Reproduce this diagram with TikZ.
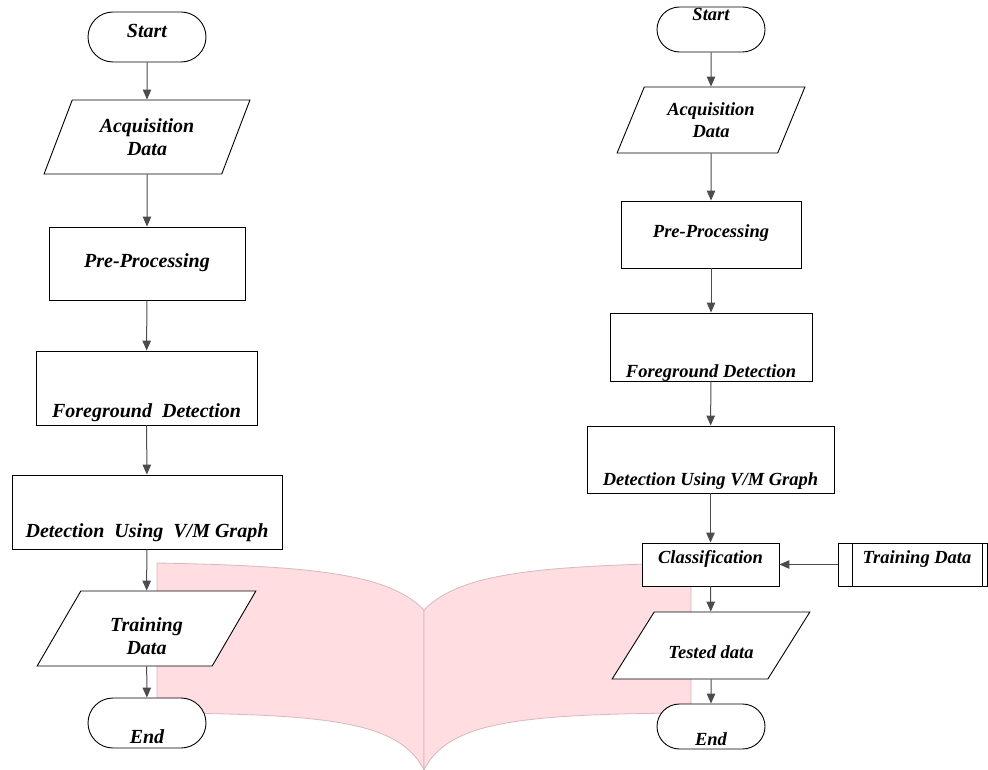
\documentclass[tikz,border=0pt]{standalone}
\usepackage{fontspec}
\setmainfont{Liberation Serif}
\usepackage{tikz}
\usetikzlibrary{shapes.geometric, shapes.misc, arrows.meta}

\definecolor{pagepink}{RGB}{255,221,225}
\definecolor{pageedge}{RGB}{214,184,189}

\begin{document}
\begin{tikzpicture}[x=1pt, y=-1pt,
    box/.style={draw, fill=white, line width=0.9pt, inner xsep=2pt, inner ysep=0pt},
    term/.style={box, rounded rectangle},
    io/.style={box, trapezium, trapezium stretches=true, align=center},
    proc/.style={box, rectangle},
    predef/.style={proc, path picture={
        \draw[line width=0.9pt] ([xshift=14pt]path picture bounding box.north west) -- ([xshift=14pt]path picture bounding box.south west);
        \draw[line width=0.9pt] ([xshift=-5pt]path picture bounding box.north east) -- ([xshift=-5pt]path picture bounding box.south east);}},
    arr/.style={-{Triangle[length=10pt, width=8.5pt]}, draw=black!70, line width=1pt},
    leftfont/.style={font=\fontsize{20}{23}\selectfont\bfseries\itshape},
    rightfont/.style={font=\fontsize{18.5}{22}\selectfont\bfseries\itshape}]
    \useasboundingbox (0,0) rectangle (988,770);

    \fill[pagepink, draw=pageedge, line width=0.8pt] (157,563) .. controls (320,566) and (390,575) .. (424,610) -- (424,770) .. controls (400,722) and (330,714) .. (157,713) -- cycle;
    \fill[pagepink, draw=pageedge, line width=0.8pt] (691,563) .. controls (528,566) and (458,575) .. (424,610) -- (424,770) .. controls (448,722) and (518,714) .. (691,713) -- cycle;

    \node[term, leftfont, minimum width=122pt, text height=26pt, text depth=24pt] (Start_L) at (147,37) {Start};
    \node[io, leftfont, trapezium left angle=63.4, trapezium right angle=116.6, minimum width=206pt, minimum height=74pt] (Acq_L) at (147,137) {Acquisition\\Data};
    \node[proc, leftfont, minimum width=196pt, text height=40pt, text depth=33pt] (Pre_L) at (147,263.5) {Pre-Processing};
    \node[proc, leftfont, minimum width=221pt, text height=66pt, text depth=8pt] (Fg_L) at (146.5,388) {Foreground\ \ Detection};
    \node[proc, leftfont, minimum width=270pt, text height=62pt, text depth=12pt] (Det_L) at (147,512) {Detection\ \ Using\ \ V/M Graph};
    \node[io, leftfont, trapezium left angle=64.4, trapezium right angle=115.6, minimum width=219pt, minimum height=75pt] (Train_L) at (146.5,628.5) {\rule{0pt}{30pt}Training\\Data};
    \node[term, leftfont, minimum width=122pt, text height=45pt, text depth=5pt] (End_L) at (147,723) {End};

    \node[term, rightfont, minimum width=112pt, text height=14pt, text depth=31pt] (Start_R) at (711,29.5) {Start};
    \node[io, rightfont, trapezium left angle=62, trapezium right angle=118, minimum width=188pt, minimum height=66pt] (Acq_R) at (711,120) {Acquisition\\Data};
    \node[proc, rightfont, minimum width=180pt, text height=37pt, text depth=30pt] (Pre_R) at (711,234.5) {Pre-Processing};
    \node[proc, rightfont, minimum width=202pt, text height=64pt, text depth=4pt] (Fg_R) at (711,347) {Foreground Detection};
    \node[proc, rightfont, minimum width=247pt, text height=59pt, text depth=8pt] (Det_R) at (710.5,459.5) {Detection Using V/M Graph};
    \node[proc, rightfont, minimum width=137pt, text height=20pt, text depth=23pt] (Cls_R) at (710.5,564.5) {Classification};
    \node[predef, rightfont, minimum width=149pt, text height=20pt, text depth=23pt] (Train_R) at (912.5,564.5) {\hspace*{9pt}Training Data};
    \node[io, rightfont, trapezium left angle=63.8, trapezium right angle=116.2, minimum width=198pt, text height=46pt, text depth=21pt] (Test_R) at (711,645.5) {Tested data};
    \node[term, rightfont, minimum width=112pt, text height=41pt, text depth=4pt] (End_R) at (711,726.5) {End};

    \draw[arr] (Start_L) -- (Acq_L);
    \draw[arr] (Acq_L) -- (Pre_L);
    \draw[arr] (Pre_L) -- (Fg_L);
    \draw[arr] (Fg_L) -- (Det_L);
    \draw[arr] (Det_L) -- (Train_L);
    \draw[arr] (Train_L) -- (End_L);

    \draw[arr] (Start_R) -- (Acq_R);
    \draw[arr] (Acq_R) -- (Pre_R);
    \draw[arr] (Pre_R) -- (Fg_R);
    \draw[arr] (Fg_R) -- (Det_R);
    \draw[arr] (Det_R) -- (Cls_R);
    \draw[arr] (Train_R) -- (Cls_R);
    \draw[arr] (Cls_R) -- (Test_R);
    \draw[arr] (Test_R) -- (End_R);
\end{tikzpicture}
\end{document}
